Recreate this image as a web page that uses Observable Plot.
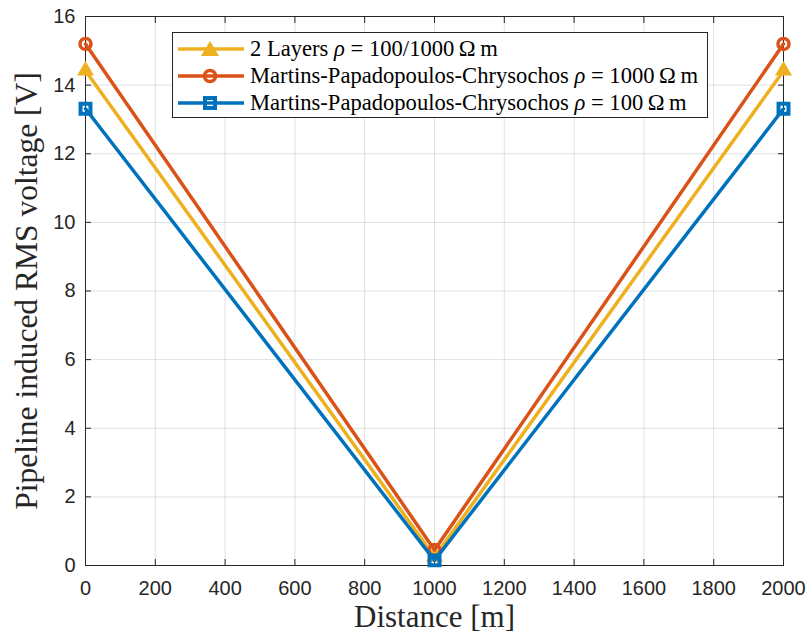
<!DOCTYPE html>
<html>
<head>
<meta charset="utf-8">
<script src="https://cdn.jsdelivr.net/npm/d3@7"></script>
<script src="https://cdn.jsdelivr.net/npm/@observablehq/plot@0.6"></script>
<style>
  html, body { margin: 0; padding: 0; background: #fff; }
  #wrap { position: relative; width: 808px; height: 636px; }
  #legend {
    position: absolute; left: 172px; top: 32px; width: 534px; height: 84px;
    border: 1px solid #262626; background: #fff; box-sizing: content-box;
    font-family: "Liberation Serif", serif; font-size: 22.6px; color: #000;
  }
  .row { position: absolute; left: 0; height: 27px; display: flex; align-items: center; white-space: nowrap; }
  .row svg { margin-left: 5px; margin-right: 6px; }
</style>
</head>
<body>
<div id="wrap"><div id="legend"></div></div>
<script>
// ---- data ----
const distance = [0, 1000, 2000];
const twoLayers = [14.42, 0.25, 14.42];
const mpc1000 = [15.2, 0.45, 15.2];
const mpc100 = [13.31, 0.15, 13.31];
const xTicks = [0, 200, 400, 600, 800, 1000, 1200, 1400, 1600, 1800, 2000];
const yTicks = [0, 2, 4, 6, 8, 10, 12, 14, 16];
const xLabel = "Distance [m]";
const yLabel = "Pipeline induced RMS voltage [V]";
const seriesNames = ["2 Layers", "Martins-Papadopoulos-Chrysochos", "Martins-Papadopoulos-Chrysochos"];
const seriesRho = ["100/1000", "1000", "100"];

const colors = {yellow: "#EDB120", orange: "#D95319", blue: "#0072BD"};
const rows = (ys) => distance.map((d, i) => ({x: d, y: ys[i]}));
const dY = rows(twoLayers), dO = rows(mpc1000), dB = rows(mpc100);

const axisFont = {fontFamily: "Liberation Sans, Arial, sans-serif", fontSize: 20};

const plot = Plot.plot({
  width: 808,
  height: 636,
  marginLeft: 85,
  marginRight: 25,
  marginTop: 16,
  marginBottom: 71,
  style: {fontFamily: "Liberation Sans, Arial, sans-serif", fontSize: "20px", color: "#262626", background: "#fff"},
  x: {domain: [0, 2000]},
  y: {domain: [0, 16]},
  marks: [
    Plot.gridX(xTicks, {stroke: "#000", strokeOpacity: 0.12}),
    Plot.gridY(yTicks, {stroke: "#000", strokeOpacity: 0.12}),
    Plot.axisX({ticks: xTicks, tickSize: -6, tickPadding: 21, tickFormat: d3.format("d"), label: null, ...axisFont, stroke: "#262626"}),
    Plot.axisX({anchor: "top", ticks: xTicks, tickSize: -6, tickFormat: () => "", label: null, stroke: "#262626"}),
    Plot.axisY({ticks: yTicks, tickSize: -6, tickPadding: 16, tickFormat: d3.format("d"), label: null, ...axisFont, stroke: "#262626"}),
    Plot.axisY({anchor: "right", ticks: yTicks, tickSize: -6, tickFormat: () => "", label: null, stroke: "#262626"}),
    Plot.frame({stroke: "#262626", strokeWidth: 1}),
    Plot.line(dY, {x: "x", y: "y", stroke: colors.yellow, strokeWidth: 3.5}),
    Plot.dot(dY, {x: "x", y: "y", symbol: "triangle", fill: colors.yellow, r: 6.3}),
    Plot.line(dO, {x: "x", y: "y", stroke: colors.orange, strokeWidth: 3.5}),
    Plot.dot(dO, {x: "x", y: "y", symbol: "circle", fill: "none", stroke: colors.orange, strokeWidth: 3.5, r: 5.5}),
    Plot.line(dB, {x: "x", y: "y", stroke: colors.blue, strokeWidth: 3.5}),
    Plot.dot(dB, {x: "x", y: "y", symbol: "square", fill: "none", stroke: colors.blue, strokeWidth: 4, r: 5.6}),
    Plot.text([xLabel], {text: d => d, frameAnchor: "bottom", dy: 52, lineAnchor: "middle", textAnchor: "middle",
      fontFamily: "Liberation Serif, serif", fontSize: 31, fill: "#262626"}),
    Plot.text([yLabel], {text: d => d, frameAnchor: "left", dx: -59, rotate: -90, lineAnchor: "middle", textAnchor: "middle",
      fontFamily: "Liberation Serif, serif", fontSize: 31.5, fill: "#262626"})
  ]
});
const wrap = document.getElementById("wrap");
wrap.insertBefore(plot, wrap.firstChild);

// ---- legend ----
const legend = document.getElementById("legend");
const swatch = [
  {c: colors.yellow, m: `<path d="M32,5 L41,20 L23,20 Z" fill="${colors.yellow}"/>`},
  {c: colors.orange, m: `<circle cx="32" cy="13" r="5.5" fill="none" stroke="${colors.orange}" stroke-width="3.5"/>`},
  {c: colors.blue, m: `<rect x="27" y="8" width="10" height="10" fill="none" stroke="${colors.blue}" stroke-width="4"/>`}
];
const rowTops = [2, 29, 56];
seriesNames.forEach((name, i) => {
  const r = document.createElement("div");
  r.className = "row";
  r.style.top = rowTops[i] + "px";
  r.innerHTML = `<svg width="66" height="26"><line x1="0" y1="13" x2="66" y2="13" stroke="${swatch[i].c}" stroke-width="3.5"/>${swatch[i].m}</svg>` +
    `<span>${name} <i>ρ</i> = ${seriesRho[i]}\u2009Ω\u2009m</span>`;
  legend.appendChild(r);
});
</script>
</body>
</html>
